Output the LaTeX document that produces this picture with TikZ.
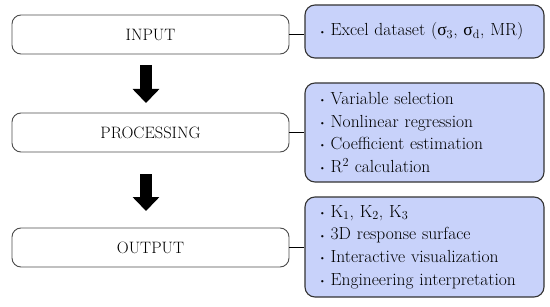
\documentclass[tikz,border=0pt]{standalone}
\usepackage{fontspec}
\newfontfamily\grk{Liberation Serif}
\usetikzlibrary{arrows.meta}

\definecolor{boxblue}{RGB}{200,210,250}
\newcommand{\bul}{\raisebox{1.8pt}{\fontsize{8}{8}\selectfont\textbullet}\hspace{5pt}}
\newcommand{\sig}{{\grk σ}}

\tikzset{
  stage/.style={draw=black!70, line width=0.9pt, rounded corners=9pt,
    minimum width=277pt, minimum height=39pt, inner sep=0pt,
    font=\fontsize{16.5}{19}\selectfont},
  detail/.style={draw=black!80, line width=1.1pt, rounded corners=10pt, fill=boxblue,
    text width=211pt, inner xsep=14pt, inner ysep=0pt, align=left,
    font=\fontsize{17.5}{22.6}\selectfont},
  flow/.style={line width=12pt, -{Triangle[length=14pt,width=26pt]}},
  link/.style={line width=1.8pt}
}

\begin{document}
\begin{tikzpicture}[x=1pt,y=1pt]
\useasboundingbox (0,0) rectangle (550,306);

\node[stage] (in) at (150.5,271.5) {INPUT};
\node[stage] (proc) at (150.5,173.5) {PROCESSING};
\node[stage] (out) at (150.5,58.5) {OUTPUT};

\node[detail, minimum height=53pt] (inD) at (424.5,274.5)
  {\bul Excel dataset (\sig\textsubscript{3}, \sig\textsubscript{d}, MR)};
\node[detail, minimum height=99pt] (procD) at (424.5,173.5)
  {\bul Variable selection\\
   \bul Nonlinear regression\\
   \bul Coefficient estimation\\
   \bul R\textsuperscript{2} calculation};
\node[detail, minimum height=100pt] (outD) at (424.5,59)
  {\bul K\textsubscript{1}, K\textsubscript{2}, K\textsubscript{3}\\
   \bul 3D response surface\\
   \bul Interactive visualization\\
   \bul Engineering interpretation};

\draw[link] (in.east) -- (in.east -| inD.west);
\draw[link] (proc.east) -- (proc.east -| procD.west);
\draw[link] (out.east) -- (out.east -| outD.west);

\coordinate (a1) at (146,241);
\coordinate (b1) at (146,203);
\coordinate (a2) at (146,132);
\coordinate (b2) at (146,95);

\draw[flow] (a1) -- (b1);
\draw[flow] (a2) -- (b2);
\end{tikzpicture}
\end{document}
